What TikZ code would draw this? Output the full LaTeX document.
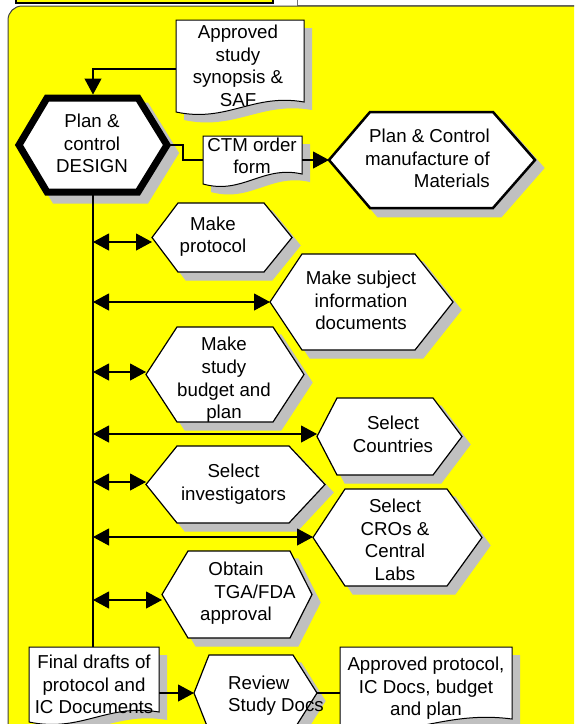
\documentclass[tikz,border=0pt]{standalone}
\usepackage{fontspec}
\setmainfont{Liberation Sans}
\usetikzlibrary{arrows.meta}

\definecolor{panel}{RGB}{255,255,0}
\definecolor{shadowgray}{RGB}{192,192,192}

\tikzset{
  hexline/.style={draw=black, fill=white, line width=1.2pt, line join=miter},
  docline/.style={draw=black, fill=white, line width=1pt},
  shapebox/.style={inner sep=0pt, outer sep=0pt, draw=none},
  words/.style={font=\fontsize{18.7}{22.6}\selectfont, align=center, inner sep=0pt, yshift=-4pt,
                execute at begin node=\strut, execute at end node=\strut},
  link/.style={line width=1.1pt, draw=black},
  onehead/.style={-{Triangle[length=16pt,width=17pt]}},
  twohead/.style={{Triangle[length=16pt,width=17pt]}-{Triangle[length=16pt,width=17pt]}},
}

% hexagon outline: style, left point x, top-left x, top-right x, right point x, top y, bottom y
\newcommand{\hexoutline}[7]{%
  \path[#1] (#2,{(#6+#7)/2}) -- (#3,#6) -- (#4,#6) -- (#5,{(#6+#7)/2})
    -- (#4,#7) -- (#3,#7) -- cycle;}
% hexagon with drop shadow and a named box node covering it
\newcommand{\hexshape}[8][]{%
  \hexoutline{hexline,#1,draw=shadowgray,fill=shadowgray,shift={(8,8)}}{#3}{#4}{#5}{#6}{#7}{#8}
  \hexoutline{hexline,#1}{#3}{#4}{#5}{#6}{#7}{#8}
  \node[shapebox, minimum width={#6-#3}, minimum height={#8-#7}] (#2)
    at ({(#3+#6)/2},{(#7+#8)/2}) {};}

% document sheet with wavy lower edge: style, left, right, top, bottom-left
\newcommand{\docoutline}[5]{%
  \path[#1] (#2,#4) -- (#3,#4) -- (#3,{#5-10})
    .. controls ({#2+0.6*(#3-#2)},{#5-19}) and ({#2+0.4*(#3-#2)},{#5+11}) .. (#2,#5) -- cycle;}
\newcommand{\docshape}[5]{%
  \docoutline{fill=shadowgray, shift={(8,8)}}{#2}{#3}{#4}{#5}
  \docoutline{docline}{#2}{#3}{#4}{#5}
  \node[shapebox, minimum width={#3-#2}, minimum height={#5-#4}] (#1)
    at ({(#2+#3)/2},{(#4+#5)/2}) {};}

\begin{document}
\begin{tikzpicture}[x=1pt, y=-1pt]
\useasboundingbox (0,0) rectangle (574,724);
\clip (0,0) rectangle (574,724);
\fill[white] (0,0) rectangle (574,724);

% strip of the neighbouring lanes along the top
\fill[panel] (16,-3) rectangle (273,3);
\draw[line width=1.5pt] (16,-3) -- (16,3) -- (273,3) -- (273,-3);
\draw[line width=1pt, draw=black!55] (297,-2) -- (297,5) -- (576,5);

% yellow swim-lane panel
\draw[fill=panel, draw=black!75, line width=1pt, rounded corners=14pt] (8,6) rectangle (600,760);

% shapes
\docshape{saf}{176}{304}{20}{112}
\hexshape[line width=7pt]{design}{19}{47}{138}{167}{98}{192}
\docshape{ctm}{203}{302}{136}{184}
\hexshape[line width=2.5pt]{mfg}{329}{370}{493}{535}{112}{208}
\hexshape{mp}{152}{178}{264}{292}{203}{272}
\hexshape{ms}{270}{302}{415}{453}{254}{350}
\hexshape{mb}{146}{177}{273}{304}{327}{422}
\hexshape{sc}{317}{337}{433}{462}{398}{475}
\hexshape{si}{146}{177}{289}{325}{446}{523}
\hexshape{cro}{313}{345}{447}{482}{489}{586}
\hexshape{tga}{162}{188}{290}{312}{551}{638}
\docshape{final}{29}{159}{647}{722}
\hexshape{rev}{194}{209}{293}{317}{655}{731}
\docshape{appr}{340}{512}{647}{729}

% texts
\node[words] (saf-t) at (238,65) {Approved\\study\\synopsis \&\\SAF};
\node[words] (design-t) at (92,143) {Plan \&\\control\\DESIGN};
\node[words] (ctm-t) at (252,155) {CTM order\\form};
\node[words, align=right, anchor=east] (mfg-t) at (490,158) {Plan \& Control\\manufacture of\\Materials};
\node[words] (mp-t) at (213,234) {Make\\protocol};
\node[words] (ms-t) at (361,300) {Make subject\\information\\documents};
\node[words] (mb-t) at (224,377.5) {Make\\study\\budget and\\plan};
\node[words] (sc-t) at (393,433.5) {Select\\Countries};
\node[words] (si-t) at (233.5,481.5) {Select\\investigators};
\node[words] (cro-t) at (395,539) {Select\\CROs \&\\Central\\Labs};
\node[words] (tga-t) at (236,591) {Obtain\\\hspace*{38pt}TGA/FDA\\approval};
\node[words] (final-t) at (94,684) {Final drafts of\\protocol and\\IC Documents};
\node[words, align=left, anchor=west] (rev-t) at (228,693) {Review\\Study Docs};
\node[words] (appr-t) at (426,686) {Approved protocol,\\IC Docs, budget\\and plan};

% connectors
\draw[link, onehead, shorten >=3.5pt] ([yshift=-3pt]saf.west) -| (design.north);
\draw[link] (design.east) -- ++(16,0) |- (ctm.west);
\draw[link, onehead] (ctm.east) -- (mfg.west);
\draw[link] (design.south) -- (design.south |- final.north);

\coordinate (j1) at (93,242);
\coordinate (j2) at (93,302);
\coordinate (j3) at (93,372);
\coordinate (j4) at (93,434);
\coordinate (j5) at (93,482);
\coordinate (j6) at (93,537);
\coordinate (j7) at (93,600);
\draw[link, twohead] (j1) -- (j1 -| mp.west);
\draw[link, twohead] (j2) -- (j2 -| ms.west);
\draw[link, twohead] (j3) -- (j3 -| mb.west);
\draw[link, twohead] (j4) -- (j4 -| sc.west);
\draw[link, twohead] (j5) -- (j5 -| si.west);
\draw[link, twohead] (j6) -- (j6 -| cro.west);
\draw[link, twohead] (j7) -- (j7 -| tga.west);

\draw[link, onehead] (final.east |- rev.west) -- (rev.west);
\draw[link] (rev.east) -- (rev.east -| appr.west);
\end{tikzpicture}
\end{document}
